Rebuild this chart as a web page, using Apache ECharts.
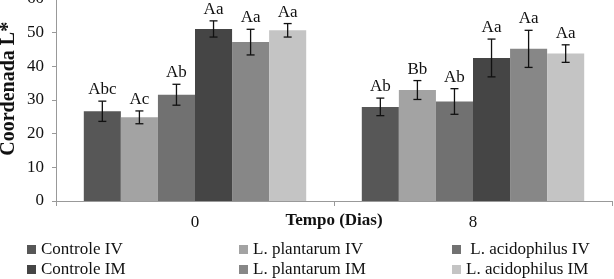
<!DOCTYPE html>
<html>
<head>
<meta charset="utf-8">
<script src="https://cdn.jsdelivr.net/npm/echarts@6/dist/echarts.min.js"></script>
<style>
  html, body { margin: 0; padding: 0; background: #fff; }
  #chart { width: 614px; height: 279px; }
</style>
</head>
<body>
<div id="chart"></div>
<script>
// Days of storage
const categories = ['0', '8'];

// Series names (legend order)
const seriesNames = ['Controle IV', 'L. plantarum IV', 'L. acidophilus IV',
                     'Controle IM', 'L. plantarum IM', 'L. acidophilus IM'];

// Mean L* values, one per day
const controleIV = [26.6, 27.9];
const plantarumIV = [24.8, 32.9];
const acidophilusIV = [31.5, 29.5];
const controleIM = [51.0, 42.4];
const plantarumIM = [47.1, 45.1];
const acidophilusIM = [50.6, 43.7];

// Standard deviations
const controleIVErr = [3.0, 2.6];
const plantarumIVErr = [1.9, 2.8];
const acidophilusIVErr = [3.1, 3.8];
const controleIMErr = [2.4, 5.6];
const plantarumIMErr = [3.8, 5.5];
const acidophilusIMErr = [2.0, 2.6];

// Significance letters
const controleIVLetters = ['Abc', 'Ab'];
const plantarumIVLetters = ['Ac', 'Bb'];
const acidophilusIVLetters = ['Ab', 'Ab'];
const controleIMLetters = ['Aa', 'Aa'];
const plantarumIMLetters = ['Aa', 'Aa'];
const acidophilusIMLetters = ['Aa', 'Aa'];

const yTicks = { min: 0, max: 60, interval: 10 };

const means = [controleIV, plantarumIV, acidophilusIV, controleIM, plantarumIM, acidophilusIM];
const errs = [controleIVErr, plantarumIVErr, acidophilusIVErr, controleIMErr, plantarumIMErr, acidophilusIMErr];
const letters = [controleIVLetters, plantarumIVLetters, acidophilusIVLetters,
                 controleIMLetters, plantarumIMLetters, acidophilusIMLetters];
const colors = ['#575757', '#a3a3a3', '#717171', '#454545', '#878787', '#c4c4c4'];

const FONT = 'Liberation Serif';
const LEGEND_FONT = 'Times New Roman';
const nSeries = seriesNames.length;

// error bars + letters drawn on top of bar i
function errorRenderer(i) {
    return function (params, api) {
        const cat = api.value(0);
        const mean = api.value(1);
        const err = api.value(2);
        const band = api.size([1, 0])[0];
        const group = band * 0.8;
        const barW = group / nSeries;
        const cx = api.coord([cat, 0])[0] - group / 2 + barW * (i + 0.5);
        const yHi = api.coord([cat, mean + err])[1];
        const yLo = api.coord([cat, mean - err])[1];
        const style = { stroke: '#111', lineWidth: 1.3 };
        return {
            type: 'group',
            children: [
                { type: 'line', shape: { x1: cx, y1: yHi, x2: cx, y2: yLo }, style },
                { type: 'line', shape: { x1: cx - 4, y1: yHi, x2: cx + 4, y2: yHi }, style },
                { type: 'line', shape: { x1: cx - 4, y1: yLo, x2: cx + 4, y2: yLo }, style },
                {
                    type: 'text',
                    style: {
                        x: cx, y: yHi - 3,
                        text: letters[i][params.dataIndex],
                        align: 'center', verticalAlign: 'bottom',
                        font: '17px "' + FONT + '"', fill: '#111'
                    }
                }
            ]
        };
    };
}

const barSeries = seriesNames.map((name, i) => ({
    name: name,
    type: 'bar',
    data: means[i],
    barGap: '0%',
    barCategoryGap: '20%',
    itemStyle: { color: colors[i] },
    silent: true
}));

const errSeries = seriesNames.map((name, i) => ({
    name: name,
    type: 'custom',
    renderItem: errorRenderer(i),
    data: categories.map((c, k) => [k, means[i][k], errs[i][k]]),
    encode: { x: 0, y: 1 },
    z: 5,
    silent: true
}));

function legendCol(names, left) {
    return {
        orient: 'vertical',
        left: left,
        top: 236,
        height: 60,
        itemWidth: 9,
        itemHeight: 9,
        itemGap: 3,
        icon: 'rect',
        data: names,
        selectedMode: false,
        formatter: n => (n === 'L. acidophilus IV' ? ' ' + n : n),
        textStyle: { fontFamily: LEGEND_FONT, fontSize: 17, color: '#111', lineHeight: 17 }
    };
}

const chart = echarts.init(document.getElementById('chart'));
chart.setOption({
    animation: false,
    color: colors,
    textStyle: { fontFamily: FONT },
    grid: { left: 56, right: 2, top: -1.4, bottom: 78, outerBoundsMode: 'none' },
    legend: [
        legendCol([seriesNames[0], seriesNames[3]], 22),
        legendCol([seriesNames[1], seriesNames[4]], 234),
        legendCol([seriesNames[2], seriesNames[5]], 447)
    ],
    xAxis: {
        type: 'category',
        data: categories,
        name: 'Tempo (Dias)',
        nameLocation: 'middle',
        nameGap: 11,
        nameMoveOverlap: false,
        nameTextStyle: { fontFamily: FONT, fontSize: 17, fontWeight: 'bold', color: '#111', verticalAlign: 'top' },
        axisLine: { lineStyle: { color: '#999' } },
        axisTick: { show: true, length: 5, lineStyle: { color: '#999' } },
        axisLabel: { margin: 13, fontFamily: FONT, fontSize: 17, color: '#111' }
    },
    yAxis: {
        type: 'value',
        min: yTicks.min,
        max: yTicks.max,
        interval: yTicks.interval,
        name: 'Coordenada L*',
        nameLocation: 'middle',
        nameGap: 37,
        nameMoveOverlap: false,
        nameTextStyle: { fontFamily: FONT, fontSize: 20, fontWeight: 'bold', color: '#111', padding: [0, 0, 0, 22] },
        axisLine: { show: true, lineStyle: { color: '#999' } },
        axisTick: { show: true, length: 4, lineStyle: { color: '#999' } },
        splitLine: { show: false },
        axisLabel: { margin: 12, fontFamily: FONT, fontSize: 17, color: '#111' }
    },
    series: barSeries.concat(errSeries)
});
</script>
</body>
</html>
